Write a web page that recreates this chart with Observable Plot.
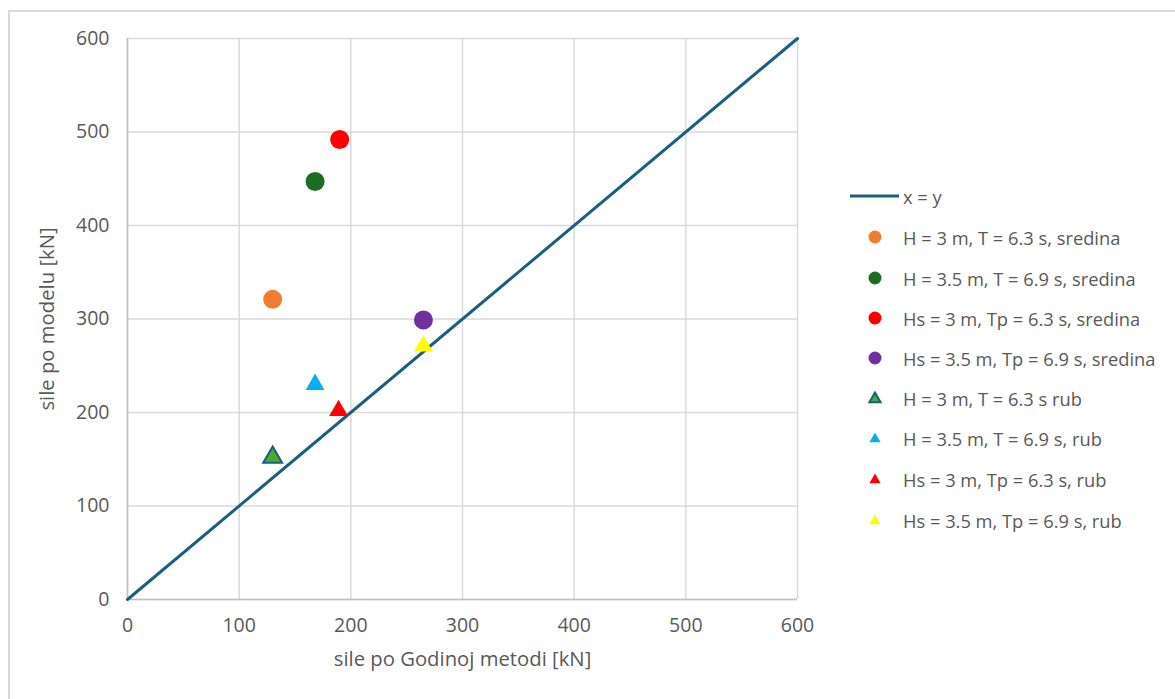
<!DOCTYPE html>
<html>
<head>
<meta charset="utf-8">
<script src="https://cdn.jsdelivr.net/npm/d3@7"></script>
<script src="https://cdn.jsdelivr.net/npm/@observablehq/plot@0.6"></script>
<style>
  html, body { margin: 0; padding: 0; background: #fff; }
  #wrap { position: relative; width: 1175px; height: 699px; overflow: hidden; font-family: "Open Sans", "Noto Sans", sans-serif; }
  #frame { position: absolute; left: 8px; top: 10px; width: 1200px; height: 720px; border-left: 2px solid #d9d9d9; border-top: 2px solid #d9d9d9; box-sizing: border-box; pointer-events: none; }
  #chart { position: absolute; left: 0; top: 0; }
  #legend { position: absolute; left: 0; top: 0; width: 1175px; height: 699px; pointer-events: none; }
  .item { position: absolute; left: 850px; display: flex; align-items: center; height: 26px; font-size: 18.3px; color: #595959; white-space: nowrap; }
  .item svg { display: block; }
  #chart svg g[aria-label$="tick label"] text { font-size: 19.5px; }
  #chart svg g[aria-label$="axis label"] text { font-size: 20.3px; }
</style>
</head>
<body>
<div id="wrap">
  <div id="chart"></div>
  <div id="legend"></div>
  <div id="frame"></div>
</div>
<script>
// ---- data ----
const seriesLabels = [
  "H = 3 m, T = 6.3 s, sredina",
  "H = 3.5 m, T = 6.9 s, sredina",
  "Hs = 3 m, Tp = 6.3 s, sredina",
  "Hs = 3.5 m, Tp = 6.9 s, sredina",
  "H = 3 m, T = 6.3 s rub",
  "H = 3.5 m, T = 6.9 s, rub",
  "Hs = 3 m, Tp = 6.3 s, rub",
  "Hs = 3.5 m, Tp = 6.9 s, rub"
];
const xValues = [130, 168, 190, 265, 130, 168, 189, 265];
const yValues = [321, 447, 492, 299, 152, 230, 202, 271];
const symbols = ["circle", "circle", "circle", "circle", "triangle", "triangle", "triangle", "triangle"];
const fillColors = ["#ED7D31", "#1E6B24", "#FF0000", "#7030A0", "#4EA72E", "#00B0F0", "#FF0000", "#FFFF00"];
const strokeColors = ["none", "none", "none", "none", "#1B5E80", "none", "none", "none"];
const lineLabel = "x = y";
const lineXY = [0, 600];
const tickValues = [0, 100, 200, 300, 400, 500, 600];
const xTitle = "sile po Godinoj metodi [kN]";
const yTitle = "sile po modelu [kN]";
const lineColor = "#1B5E80";

const points = seriesLabels.map((label, i) => ({
  label, x: xValues[i], y: yValues[i], symbol: symbols[i], fill: fillColors[i], stroke: strokeColors[i]
}));
const circles = points.filter(d => d.symbol === "circle");
const triangles = points.filter(d => d.symbol === "triangle");
const linePts = lineXY.map(v => ({x: v, y: v}));

const chart = Plot.plot({
  width: 1175,
  height: 699,
  marginLeft: 127,
  marginRight: 378,
  marginTop: 38,
  marginBottom: 100,
  style: { fontFamily: "'Open Sans', 'Noto Sans', sans-serif", background: "transparent", color: "#595959", fontSize: "18px" },
  x: { domain: [0, 600] },
  y: { domain: [0, 600] },
  marks: [
    Plot.gridX(tickValues, { stroke: "#d9d9d9", strokeOpacity: 1, strokeWidth: 1.5 }),
    Plot.gridY(tickValues, { stroke: "#d9d9d9", strokeOpacity: 1, strokeWidth: 1.5 }),
    Plot.ruleX([0], { stroke: "#bfbfbf", strokeWidth: 1.5 }),
    Plot.ruleY([0], { stroke: "#bfbfbf", strokeWidth: 1.5 }),
    Plot.axisX({ ticks: tickValues, tickSize: 0, tickPadding: 19, fill: "#595959",
      label: xTitle, labelAnchor: "center", labelOffset: 66, labelArrow: "none" }),
    Plot.axisY({ ticks: tickValues, tickSize: 0, tickPadding: 18, fill: "#595959",
      label: yTitle, labelAnchor: "center", labelOffset: 88, labelArrow: "none" }),
    Plot.line(linePts, { x: "x", y: "y", stroke: lineColor, strokeWidth: 3 }),
    Plot.dot(circles, { x: "x", y: "y", symbol: "circle", fill: d => d.fill, r: 9.5 }),
    Plot.dot(triangles, { x: "x", y: "y", symbol: "triangle", fill: d => d.fill, stroke: d => d.stroke,
      strokeWidth: 2, r: 7 })
  ]
});
document.getElementById("chart").appendChild(chart);

// ---- legend ----
const legend = document.getElementById("legend");
const rowYs = [196, 237, 278, 318, 358, 398, 438, 479, 520];
function addItem(top, swatchSvg, text) {
  const div = document.createElement("div");
  div.className = "item";
  div.style.top = (top - 13) + "px";
  div.innerHTML = swatchSvg + `<span style="margin-left:4px">${text}</span>`;
  legend.appendChild(div);
}
addItem(rowYs[0], `<svg width="49" height="26"><line x1="0" y1="13" x2="49" y2="13" stroke="${lineColor}" stroke-width="3"/></svg>`, lineLabel);
points.forEach((p, i) => {
  let shape;
  if (p.symbol === "circle") {
    shape = `<circle cx="25" cy="13" r="6.5" fill="${p.fill}"/>`;
  } else {
    shape = `<path transform="translate(25,14)" d="${d3.symbol(d3.symbolTriangle2, 90)()}" fill="${p.fill}" stroke="${p.stroke}" stroke-width="${p.stroke === 'none' ? 0 : 2}"/>`;
  }
  addItem(rowYs[i + 1], `<svg width="49" height="26">${shape}</svg>`, p.label);
});
</script>
</body>
</html>
